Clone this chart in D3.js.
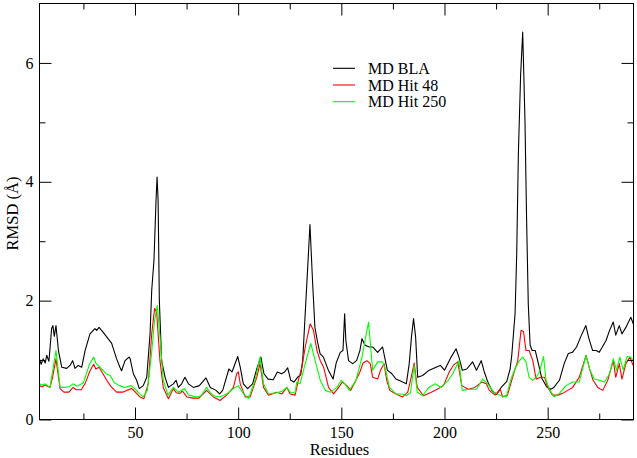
<!DOCTYPE html>
<html><head><meta charset="utf-8">
<script src="https://cdn.jsdelivr.net/npm/d3@7"></script>
<style>body{margin:0;background:#fff}svg{display:block}</style>
</head><body>
<svg id="c" width="637" height="458"></svg>
<script>
// ---- data ----
const seriesNames = ["MD BLA", "MD Hit 48", "MD Hit 250"];
const seriesColors = ["#000000", "#ff0000", "#00ff00"];
const xTicksMajor = [50, 100, 150, 200, 250];
const xTicksMinor = [25, 75, 125, 175, 225, 275];
const yTicksMajor = [0, 2, 4, 6];
const yTicksMinor = [1, 3, 5];

const blaRes = [3.6,4.5,5.5,6.5,7.2,8.3,9.6,10.2,10.9,11.7,12.9,14.5,16.9,18.5,19.8,20.9,22.5,24.2,25.8,28.2,30.6,31.4,32.6,34.5,36.3,38.7,41.1,42.7,43.5,45.2,47.1,47.6,49.2,50.8,52.1,54,55.7,57.3,58.1,59.2,60.2,60.7,61.2,61.8,62.9,64.6,66.2,68.6,69.9,71,72.6,74.2,75.9,78.3,81.2,84.4,86.5,89.3,91,92.5,95.5,97,99.8,101,102.5,104.6,107,109,111,112.5,114.5,117,119,121,122.5,124,125.5,127,128.8,130.3,131.3,132.4,133.7,134.8,136.1,137.2,138.5,139.7,141.3,143.7,146,147.5,149.5,150.8,151.6,152.2,153.5,155.5,157.4,159,160,161.5,163.5,165.2,167.6,170,171,172.3,174.5,176.5,179.7,181.5,182.9,184,185,186,187,189.4,192.6,195.9,198,200,203.2,205.6,207,208.6,210.8,213.6,215.5,217.8,219.3,220.8,222.9,225.3,227.7,230.2,231.8,232.6,234.2,235,235.8,236.9,237.9,239,239.8,240.6,241.5,242.5,244,245.5,247.1,249.5,251.5,253,255.7,258,260,262,264,266,268.5,270,271.8,273.5,275,276.5,278.3,280,281.8,283,284.7,286,287.9,290.3,291.8];
const blaVal = [1.03,0.93,1.02,0.95,1.08,0.98,1.53,1.58,1.4,1.58,1.16,0.88,0.86,0.91,0.99,0.86,0.91,0.88,1.16,1.44,1.53,1.5,1.55,1.47,1.39,1.28,1.02,0.88,0.82,0.99,1.05,1.03,0.77,0.66,0.52,0.57,0.71,1.44,2.17,2.68,3.69,4.08,3.69,2.0,0.99,0.71,0.54,0.6,0.66,0.54,0.6,0.71,0.6,0.54,0.57,0.70,0.54,0.49,0.43,0.49,0.85,0.8,1.06,0.88,0.6,0.52,0.6,0.85,1.05,0.77,0.68,0.67,0.8,0.77,0.8,0.87,0.66,0.63,0.71,0.75,1.0,1.72,2.56,3.28,2.29,1.55,1.3,1.11,1.05,0.83,0.68,0.95,1.13,1.16,1.78,1.33,0.99,0.94,0.99,1.16,1.36,1.25,1.22,1.22,1.13,1.22,1.05,0.83,0.77,0.68,0.63,0.6,0.94,1.39,1.7,1.39,0.71,0.74,0.83,0.88,0.91,0.83,1.05,1.19,1.05,0.83,0.85,0.97,0.83,0.99,0.8,0.65,0.49,0.42,0.55,0.64,0.85,1.08,1.78,2.79,4.47,5.8,6.52,5.04,3.35,1.95,1.25,1.16,1.16,0.94,0.7,0.55,0.51,0.54,0.66,0.94,1.11,1.13,1.22,1.39,1.58,1.36,1.16,1.16,1.13,1.22,1.33,1.5,1.64,1.42,1.58,1.44,1.55,1.72,1.58];

const hit48Res = [3.6,5,6.5,8.8,10,11.7,13.7,15.5,18,20,21.5,24,26,28.2,30,31,32.6,34.5,36.3,38.5,41.1,44,46,48.5,50.5,52.4,54.3,56.4,58.1,59.5,60.5,62.1,63.7,66.2,68.6,70,71.8,73,75.1,78,81,84.7,88,91.2,94.4,97.7,99.3,100.1,101,103.4,105.8,109,110.6,112.3,114.7,118.7,121.2,123.6,125.2,127.6,129.3,130.9,132.5,134.9,136.5,138.2,139.8,141.4,143.8,146.2,148.7,150.5,152.7,154.5,157.1,159,160.5,162.4,164,165.2,167.6,169,170.7,172,173.5,176.5,179.7,182.2,183.8,185.3,186.8,189.8,193.6,196.5,199.5,202.3,204.5,206.4,208.4,211.5,214.7,218,220.3,221.7,224.5,227,228.2,230.5,233,235.5,237.1,238.3,239.5,241,242.8,244.4,246.7,248.5,250,252.4,255,257.3,259.7,262.1,265.3,268.6,270.5,272,274.3,276.7,279.1,281.8,283,284.7,286,287.9,289.8,291.8];
const hit48Val = [0.57,0.55,0.58,0.54,0.7,1.02,0.52,0.46,0.46,0.54,0.5,0.5,0.62,0.82,0.93,0.85,0.88,0.77,0.66,0.55,0.46,0.46,0.49,0.52,0.45,0.38,0.35,0.6,1.44,1.87,1.8,0.99,0.54,0.35,0.52,0.45,0.44,0.48,0.38,0.36,0.36,0.49,0.38,0.32,0.41,0.54,0.77,0.8,0.6,0.38,0.38,0.71,0.94,0.54,0.41,0.46,0.43,0.54,0.43,0.41,0.68,0.88,1.22,1.61,1.5,1.16,0.99,0.88,0.54,0.43,0.54,0.63,0.57,0.49,0.66,0.8,0.95,0.99,0.94,0.71,0.68,0.83,0.94,0.66,0.49,0.43,0.38,0.46,0.7,0.95,0.54,0.4,0.46,0.51,0.57,0.8,0.92,0.97,0.57,0.51,0.54,0.63,0.6,0.49,0.41,0.51,0.38,0.41,0.71,0.99,1.5,1.48,1.16,1.16,0.99,0.68,0.71,0.71,0.54,0.41,0.41,0.44,0.49,0.54,0.71,1.08,0.83,0.66,0.54,0.49,0.66,0.99,0.71,0.94,0.68,0.94,1.05,0.88];

const hit250Res = [3.6,5,6.5,8.8,10,11.7,13.7,16,18,20,22,25,28,30,31,33,36,38,40,42.5,45,48,50.5,52,54,56,58,59.5,60.8,62,63.7,66,68.6,71,74,76,80,82,84.7,86.5,88,91.2,94.4,98.5,100.1,102.6,105,108.2,110.6,112.3,114.7,118.7,121.5,123.6,125.5,127.6,128.4,130,132.5,135.2,137.3,139.8,142.2,144.7,147.9,150,151.8,153.9,157.1,160,161.8,163.2,164.2,165.2,167.6,170,171.5,173.3,176.5,179.2,181.5,183.5,185.3,186.8,189.4,192.4,195.5,198.3,201.8,204,207,208.6,212,215.5,218.5,221,223.8,226.6,230,232,234.5,236.3,237.9,239.5,241,242.8,244.4,246,248,249.2,250.8,253.2,255.7,258.9,262.1,265.3,268.6,270.5,272.6,275,277.5,280,281.8,283.4,285,286.6,288.5,290.2,291.8];
const hit250Val = [0.6,0.58,0.6,0.54,0.8,1.16,0.54,0.54,0.55,0.6,0.56,0.62,0.93,1.05,0.95,0.88,0.77,0.74,0.62,0.57,0.54,0.57,0.5,0.44,0.38,0.49,1.1,1.67,1.92,1.44,0.66,0.41,0.54,0.46,0.52,0.41,0.38,0.4,0.54,0.45,0.4,0.38,0.43,0.54,0.57,0.43,0.35,0.66,1.05,0.6,0.43,0.45,0.48,0.54,0.45,0.45,0.63,0.6,0.94,1.28,0.99,0.66,0.49,0.46,0.54,0.66,0.6,0.49,0.66,1.05,1.39,1.64,1.22,0.83,0.97,0.97,0.83,0.54,0.43,0.43,0.40,0.45,0.91,0.46,0.40,0.54,0.6,0.54,0.66,0.77,0.99,0.49,0.51,0.51,0.68,0.6,0.46,0.41,0.38,0.66,0.88,0.99,1.05,0.97,0.71,0.66,0.71,0.8,1.06,0.66,0.51,0.38,0.44,0.57,0.63,0.63,1.08,0.83,0.68,0.66,0.63,0.77,1.02,0.83,1.05,0.83,1.06,1.05,0.97];

// ---- layout ----
const X0 = 39.5, X1 = 633.5, Y0 = 3.5, Y1 = 419.5;
const svg = d3.select("#c");
const font = "'Liberation Serif','Times New Roman',serif";

const xScale = d3.scaleLinear().domain([3.72, 291.6]).range([X0, X1]);
const yScale = d3.scaleLinear().domain([0, 7]).range([Y1, Y0]);

svg.append("defs").append("clipPath").attr("id", "clip")
  .append("rect").attr("x", X0).attr("y", Y0).attr("width", X1 - X0).attr("height", Y1 - Y0);

const seriesList = [
  {res: blaRes, val: blaVal},
  {res: hit48Res, val: hit48Val},
  {res: hit250Res, val: hit250Val}
];
const lineGen = d3.line().x(d => xScale(d[0])).y(d => yScale(d[1]));
const plotG = svg.append("g").attr("clip-path", "url(#clip)");
seriesList.forEach((s, i) => {
  const n = Math.min(s.res.length, s.val.length);
  const pts = d3.range(n).map(j => [s.res[j], s.val[j]]);
  plotG.append("path").datum(pts).attr("d", lineGen)
    .attr("fill", "none").attr("stroke", seriesColors[i]).attr("stroke-width", 1.1)
    .attr("stroke-linejoin", "round");
});

// axes: inward ticks on all four sides
function styleAxis(g) {
  g.select(".domain").remove();
  g.selectAll(".tick line").attr("stroke", "#000");
  g.selectAll(".tick text").attr("font-family", font).attr("font-size", 16).attr("fill", "#000");
}
function addAxis(axis, tx, ty) {
  const g = svg.append("g").attr("transform", `translate(${tx},${ty})`).call(axis);
  styleAxis(g);
  return g;
}
addAxis(d3.axisBottom(xScale).tickValues(xTicksMajor).tickSize(-12).tickPadding(7).tickFormat(d3.format("d")), 0, Y1);
addAxis(d3.axisBottom(xScale).tickValues(xTicksMinor).tickSize(-6).tickFormat(""), 0, Y1);
addAxis(d3.axisTop(xScale).tickValues(xTicksMajor).tickSize(-12).tickFormat(""), 0, Y0);
addAxis(d3.axisTop(xScale).tickValues(xTicksMinor).tickSize(-6).tickFormat(""), 0, Y0);
addAxis(d3.axisLeft(yScale).tickValues(yTicksMajor).tickSize(-12).tickPadding(6).tickFormat(d3.format("d")), X0, 0);
addAxis(d3.axisLeft(yScale).tickValues(yTicksMinor).tickSize(-6).tickFormat(""), X0, 0);
addAxis(d3.axisRight(yScale).tickValues(yTicksMajor).tickSize(-12).tickFormat(""), X1, 0);
addAxis(d3.axisRight(yScale).tickValues(yTicksMinor).tickSize(-6).tickFormat(""), X1, 0);

// frame
svg.append("rect").attr("x", X0).attr("y", Y0).attr("width", X1 - X0).attr("height", Y1 - Y0)
  .attr("fill", "none").attr("stroke", "#000").attr("stroke-width", 1);

// axis titles
svg.append("text").attr("x", (X0 + X1) / 2 + 3).attr("y", 455)
  .attr("text-anchor", "middle").attr("font-family", font).attr("font-size", 16.5).text("Residues");
svg.append("text").attr("transform", `translate(18,${(Y0 + Y1) / 2 + 2}) rotate(-90)`)
  .attr("text-anchor", "middle").attr("font-family", font).attr("font-size", 16.5).text("RMSD (Å)");

// legend
const legY = [68.3, 85, 101.7];
seriesNames.forEach((n, i) => {
  svg.append("line").attr("x1", 333).attr("x2", 355).attr("y1", legY[i]).attr("y2", legY[i])
    .attr("stroke", seriesColors[i]).attr("stroke-width", 1.1);
  svg.append("text").attr("x", 368).attr("y", legY[i] + 5.5)
    .attr("font-family", font).attr("font-size", 16).text(n);
});
</script>
</body></html>
